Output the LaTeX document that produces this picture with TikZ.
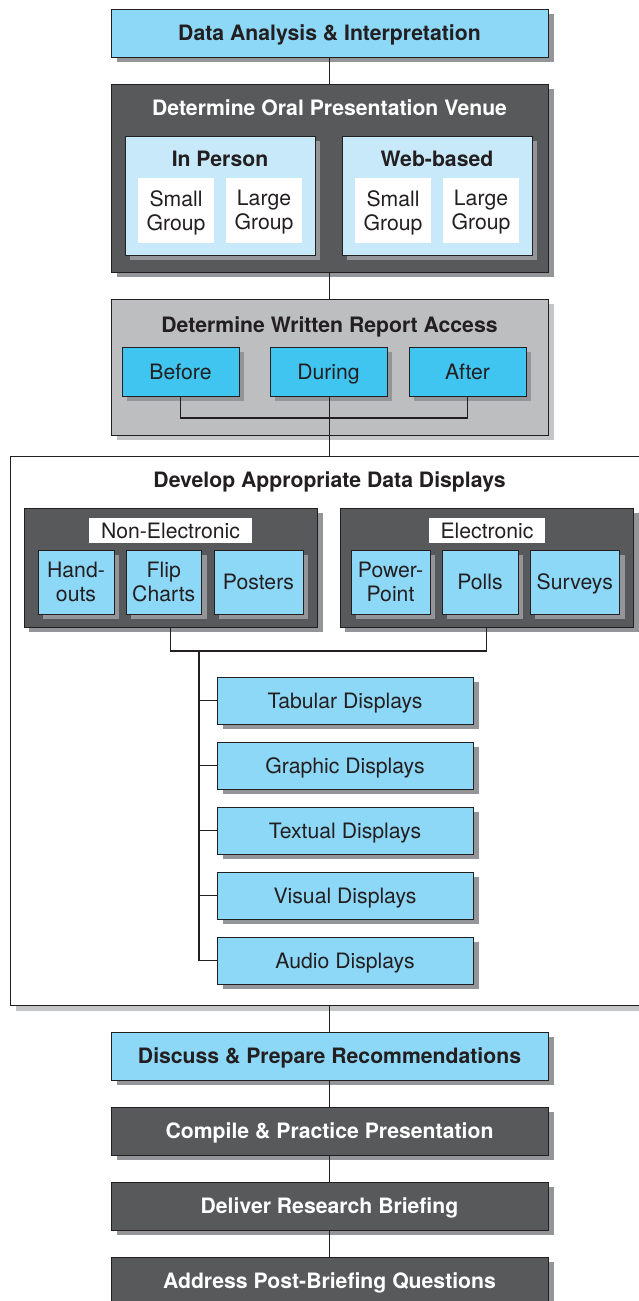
\documentclass[tikz,border=0pt]{standalone}
\usepackage{fontspec}
\setmainfont{TeX Gyre Heros}
\usetikzlibrary{shadows}
\definecolor{lightblue}{HTML}{8DD7F7}
\definecolor{paleblue}{HTML}{C7E9F9}
\definecolor{cyanblue}{HTML}{3FC5F0}
\definecolor{darkbox}{HTML}{58595B}
\definecolor{graybox}{HTML}{BCBEC0}
\definecolor{shgray}{HTML}{939598}
\definecolor{shlight}{HTML}{C4C5C7}
\definecolor{ink}{HTML}{231F20}
\tikzset{
  base/.style={inner sep=0pt, outer sep=0pt, align=center, text=ink,
    font=\fontsize{21.2}{24}\selectfont},
  oneline/.style={text height=17pt, text depth=2pt},
  twoline/.style={text depth=0.5pt},
  sh/.style={drop shadow={shadow xshift=#1pt, shadow yshift=-5pt, fill=shgray, opacity=1}},
  sh/.default=6,
  bluebar/.style={base, oneline, draw=ink, line width=1pt, fill=lightblue, sh,
    minimum width=437pt, minimum height=48pt, font=\fontsize{21.2}{24}\selectfont\bfseries},
  darkbar/.style={base, oneline, draw=ink, line width=1pt, fill=darkbox, sh, text=white,
    minimum width=437pt, minimum height=48pt, font=\fontsize{21.2}{24}\selectfont\bfseries},
  bigdark/.style={base, draw=ink, line width=1pt, fill=darkbox, sh},
  bigtitle/.style={base, oneline, font=\fontsize{21.2}{24}\selectfont\bfseries},
  subpale/.style={base, draw=ink, line width=1pt, fill=paleblue, sh=5,
    minimum width=190pt, minimum height=119pt},
  whitebox/.style={base, twoline, fill=white, minimum width=76pt, minimum height=65pt},
  cyanbox/.style={base, oneline, draw=ink, line width=1pt, fill=cyanblue, sh=5,
    minimum width=117pt, minimum height=49pt},
  smallblue/.style={base, draw=ink, line width=1pt, fill=lightblue, sh=5,
    minimum height=64pt},
  labelbox/.style={base, oneline, fill=white, minimum height=25pt},
  dispbox/.style={base, oneline, draw=ink, line width=1pt, fill=lightblue, sh,
    minimum width=256pt, minimum height=47pt},
  conn/.style={draw=ink, line width=1.4pt},
}
\begin{document}
\begin{tikzpicture}[x=1pt, y=-1pt]
\useasboundingbox (0,0) rectangle (639,1301);
\fill[white] (0,0) rectangle (639,1301);

% top
\node[bluebar] (b1) at (329.5,33) {Data Analysis \& Interpretation};

% oral presentation venue
\node[bigdark, minimum width=437pt, minimum height=188pt] (b2) at (329.5,178) {};
\node[bigtitle, text=white] (b2t) at (329.5,108) {Determine Oral Presentation Venue};
\node[subpale] (inp) at (220,195.5) {};
\node[bigtitle] (inpt) at (220,159) {In Person};
\node[whitebox] (s1) at (176,210.5) {Small\\Group};
\node[whitebox] (l1) at (264,210.5) {Large\\Group};
\node[subpale] (web) at (437,195.5) {};
\node[bigtitle] (webt) at (437,159) {Web-based};
\node[whitebox] (s2) at (393,210.5) {Small\\Group};
\node[whitebox] (l2) at (481,210.5) {Large\\Group};

% written report access
\node[base, draw=ink, line width=1pt, fill=graybox,
  drop shadow={shadow xshift=6pt, shadow yshift=-5pt, fill=shlight, opacity=1},
  minimum width=437pt, minimum height=136pt] (b3) at (329.5,367) {};
\node[bigtitle] (b3t) at (329.5,325) {Determine Written Report Access};
\node[cyanbox] (before) at (180.5,371.5) {Before};
\node[cyanbox] (during) at (328.5,371.5) {During};
\node[cyanbox] (after) at (467.5,371.5) {After};

% data displays
\node[base, draw=ink, line width=1pt, fill=white,
  drop shadow={shadow xshift=6pt, shadow yshift=-6pt, fill=shlight, opacity=1},
  minimum width=640pt, minimum height=549pt] (b4) at (330,730.5) {};
\node[bigtitle] (b4t) at (329.5,480) {Develop Appropriate Data Displays};

\node[bigdark, sh=4, minimum width=292.5pt, minimum height=119pt] (nonel) at (170.75,567.5) {};
\node[labelbox, minimum width=163pt] (nonelt) at (170.5,530.5) {Non-Electronic};
\node[smallblue, twoline, minimum width=76pt] (hand) at (76,582) {Hand-\\outs};
\node[smallblue, twoline, minimum width=75.5pt] (flip) at (163.75,582) {Flip\\Charts};
\node[smallblue, oneline, minimum width=89pt] (post) at (258.5,582) {Posters};

\node[bigdark, sh=4, minimum width=292.5pt, minimum height=119pt] (el) at (486.75,567.5) {};
\node[labelbox, minimum width=116pt] (elt) at (487,530.5) {Electronic};
\node[smallblue, twoline, minimum width=79pt] (power) at (390.5,582) {Power-\\Point};
\node[smallblue, oneline, minimum width=76pt] (polls) at (480,582) {Polls};
\node[smallblue, oneline, minimum width=89.5pt] (surv) at (574.75,582) {Surveys};

\node[dispbox] (tab) at (345,700.5) {Tabular Displays};
\node[dispbox] (gra) at (345,765.5) {Graphic Displays};
\node[dispbox] (tex) at (345,830.5) {Textual Displays};
\node[dispbox] (vis) at (345,895.5) {Visual Displays};
\node[dispbox] (aud) at (345,960.5) {Audio Displays};

% bottom chain
\node[bluebar] (disc) at (329.5,1056) {Discuss \& Prepare Recommendations};
\node[darkbar] (comp) at (329.5,1131) {Compile \& Practice Presentation};
\node[darkbar] (deliv) at (329.5,1206) {Deliver Research Briefing};
\node[darkbar] (addr) at (329.5,1281) {Address Post-Briefing Questions};

% connectors
\draw[conn] (b1.south) -- (b2.north);
\draw[conn] (b2.south) -- (b3.north);
\draw[conn] (before.south) -- ++(0,22) -| (after.south);
\draw[conn] (during.south -| b3.south) -- (b4.north -| b3.south);
\draw[conn] (nonel.south) -- ++(0,24) -| (el.south);
\coordinate (spine) at (199,651);
\foreach \n in {tab,gra,tex,vis,aud} \draw[conn] (spine) |- (\n.west);
\draw[conn] (b4.south -| disc.north) -- (disc.north);
\draw[conn] (disc.south) -- (comp.north);
\draw[conn] (comp.south) -- (deliv.north);
\draw[conn] (deliv.south) -- (addr.north);
\end{tikzpicture}
\end{document}
